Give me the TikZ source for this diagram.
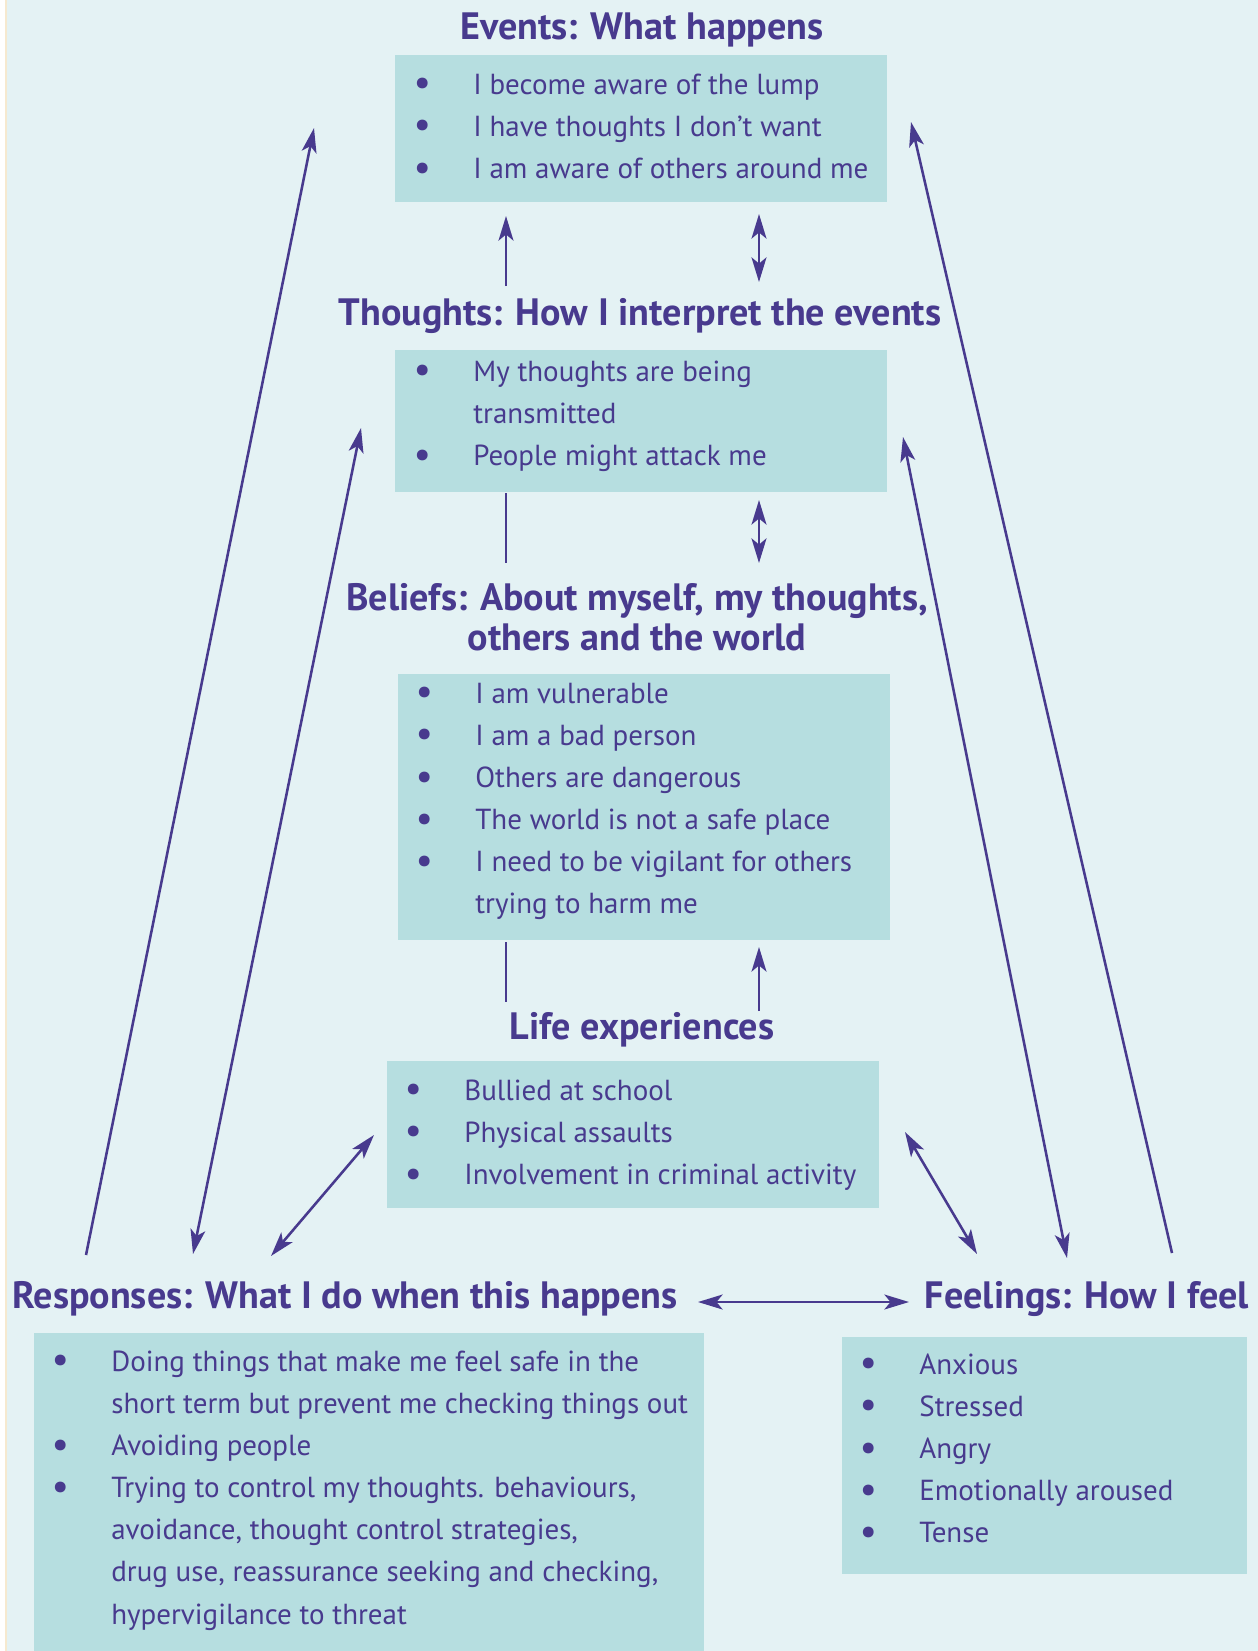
\documentclass[tikz,border=0pt]{standalone}
\usepackage{fontspec}
\setmainfont{PT Sans}
\usepackage{xcolor}
\usetikzlibrary{arrows.meta}
\definecolor{cbtpurple}{HTML}{483A8E}
\definecolor{cbtback}{HTML}{E4F2F4}
\definecolor{cbtbox}{HTML}{B6DEE0}
\definecolor{cbtedge}{HTML}{F6E9CF}
\newcommand{\itm}{\llap{\raisebox{-1pt}{\fontsize{22}{24}\selectfont\textbullet}\hspace{24pt}}}
\newcommand{\headfont}{\fontsize{21.7}{22}\bfseries\selectfont}
\newcommand{\listfont}{\fontsize{16.5}{24}\selectfont}

\tikzset{
  box/.style={fill=cbtbox, anchor=north west, inner sep=0pt},
  head/.style={text=cbtpurple, font=\headfont, anchor=base, inner sep=0pt},
  list/.style={text=cbtpurple, font=\listfont, anchor=base west, inner sep=0pt},
  link/.style={cbtpurple, line width=1.45pt, -{Stealth[length=14pt, width=8.5pt, inset=3.5pt]}},
  twoway/.style={link, {Stealth[length=14pt, width=8.5pt, inset=3.5pt]}-{Stealth[length=14pt, width=8.5pt, inset=3.5pt]}},
  plain/.style={cbtpurple, line width=1.45pt},
}

\begin{document}
\begin{tikzpicture}[x=0.02cm, y=-0.02cm]
    \useasboundingbox (0,0) rectangle (1258,1651);
    \fill[white] (0,0) rectangle (1258,1651);
    \fill[cbtedge] (5,0) rectangle (7,1651);
    \fill[cbtback] (7,0) rectangle (1258,1651);

    % boxes
    \node[box, minimum width=9.84cm, minimum height=2.94cm] (evbox) at (395,55) {};
    \node[box, minimum width=9.84cm, minimum height=2.84cm] (thbox) at (395,350) {};
    \node[box, minimum width=9.84cm, minimum height=5.32cm] (bebox) at (398,674) {};
    \node[box, minimum width=9.84cm, minimum height=2.94cm] (lfbox) at (387,1061) {};
    \node[box, minimum width=13.4cm, minimum height=6.36cm] (rebox) at (34,1333) {};
    \node[box, minimum width=8.1cm, minimum height=4.74cm] (febox) at (842,1337) {};

    % headings
    \node[head] (evhead) at (642,39) {Events: What happens};
    \node[head] (thhead) at (640,325) {Thoughts: How I interpret the events};
    \node[head] (behead) at (637,610) {\begin{tabular}[t]{@{}c@{}}Beliefs: About myself, my thoughts,\\[1pt] others and the world\end{tabular}};
    \node[head] (lfhead) at (642,1039) {Life experiences};
    \node[head] (rehead) at (345,1308) {Responses: What I do when this happens};
    \node[head] (fehead) at (1087,1308) {Feelings: How I feel};

    % lists
    \node[list] (evlist) at (473,94) {\begin{tabular}[t]{@{}l@{}}
        \itm I become aware of the lump\\
        \itm I have thoughts I don’t want\\
        \itm I am aware of others around me\end{tabular}};
    \node[list] (thlist) at (473,381) {\begin{tabular}[t]{@{}l@{}}
        \itm My thoughts are being\\
        transmitted\\
        \itm People might attack me\end{tabular}};
    \node[list] (belist) at (475,703) {\begin{tabular}[t]{@{}l@{}}
        \itm I am vulnerable\\
        \itm I am a bad person\\
        \itm Others are dangerous\\
        \itm The world is not a safe place\\
        \itm I need to be vigilant for others\\
        trying to harm me\end{tabular}};
    \node[list] (lflist) at (464,1100) {\begin{tabular}[t]{@{}l@{}}
        \itm Bullied at school\\
        \itm Physical assaults\\
        \itm Involvement in criminal activity\end{tabular}};
    \node[list] (relist) at (111,1371) {\begin{tabular}[t]{@{}l@{}}
        \itm Doing things that make me feel safe in the\\
        short term but prevent me checking things out\\
        \itm Avoiding people\\
        \itm Trying to control my thoughts. behaviours,\\
        avoidance, thought control strategies,\\
        drug use, reassurance seeking and checking,\\
        hypervigilance to threat\end{tabular}};
    \node[list] (felist) at (919,1374) {\begin{tabular}[t]{@{}l@{}}
        \itm Anxious\\
        \itm Stressed\\
        \itm Angry\\
        \itm Emotionally aroused\\
        \itm Tense\end{tabular}};

    % arrow ends
    \coordinate (reL) at (86,1255);
    \coordinate (evL) at (314,128);
    \coordinate (thL) at (361,428);
    \coordinate (reM) at (193,1254);
    \coordinate (lfL) at (374,1135);
    \coordinate (reR) at (271,1256);
    \coordinate (feR) at (1172,1253);
    \coordinate (evR) at (911,122);
    \coordinate (thR) at (903,437);
    \coordinate (feM) at (1067,1258);
    \coordinate (lfR) at (905,1132);
    \coordinate (feL) at (977,1254);
    \coordinate (reE) at (698,1302);
    \coordinate (feW) at (909,1302);

    \draw[link] (reL) -- (evL);
    \draw[twoway] (thL) -- (reM);
    \draw[twoway] (lfL) -- (reR);
    \draw[link] (feR) -- (evR);
    \draw[twoway] (thR) -- (feM);
    \draw[twoway] (lfR) -- (feL);
    \draw[twoway] (reE) -- (feW);

    % centre column
    \draw[link] (506,286) -- (506,216);
    \draw[twoway] (759,214) -- (759,282);
    \draw[plain] (506,493) -- (506,563);
    \draw[twoway] (759,500) -- (759,563);
    \draw[plain] (506,942) -- (506,1002);
    \draw[link] (759,1011) -- (759,947);
\end{tikzpicture}
\end{document}
